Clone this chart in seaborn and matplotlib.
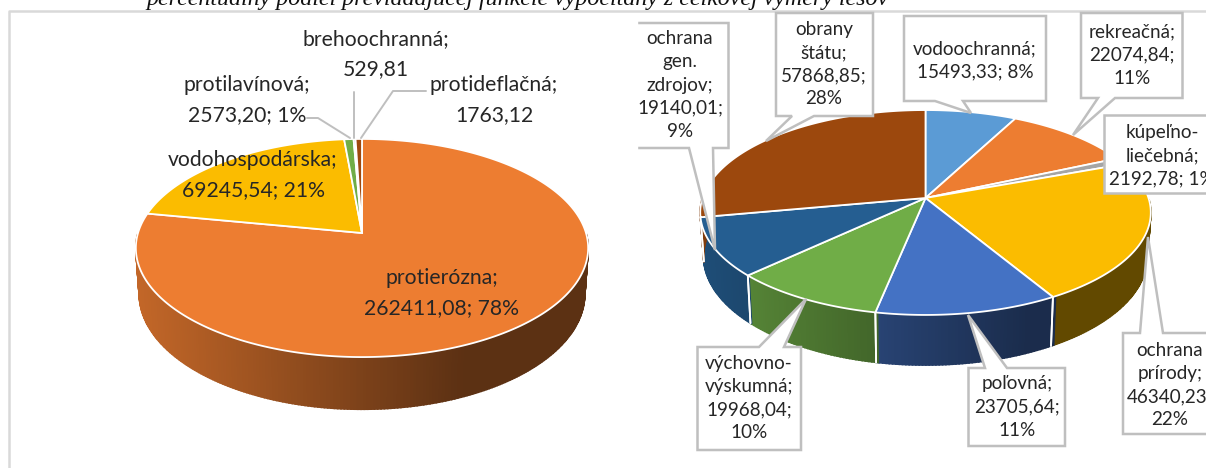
import numpy as np
import matplotlib
matplotlib.use('Agg')
import matplotlib.pyplot as plt
import seaborn as sns

sns.set_theme(style='white')
plt.rcParams['font.family'] = ['Lato', 'DejaVu Sans']

# Left pie: prevailing function of protective forests
left_names = ['protierózna', 'vodohospodárska', 'protilavínová', 'brehoochranná', 'protideflačná']
left_values = [262411.08, 69245.54, 2573.20, 529.81, 1763.12]
left_colors = ['#ED7D31', '#FBBC00', '#70AD47', '#255E91', '#9E480E']

# Right pie: prevailing function of special purpose forests
right_names = ['vodoochranná', 'rekreačná', 'kúpeľno-liečebná', 'ochrana prírody', 'poľovná',
               'výchovno-výskumná', 'ochrana gen. zdrojov', 'obrany štátu']
right_values = [15493.33, 22074.84, 2192.78, 46340.23, 23705.64, 19968.04, 19140.01, 57868.85]
right_colors = ['#5B9BD5', '#ED7D31', '#A5A5A5', '#FBBC00', '#4472C4', '#70AD47', '#255E91', '#9C480D']

title_text = 'percentuálny podiel prevládajúcej funkcie vypočítaný z celkovej výmery lesov'


def project(theta, cx, cy, R, b, k, depth=0, shrink=1.0, r=1.0):
    # fake perspective, nearer part of the disc comes out bigger
    u = r * np.cos(np.radians(theta))
    v = -r * np.sin(np.radians(theta))
    f = 1 / (1 - k * v)
    return cx + R * u * f * shrink, cy + b * v * f + depth * f


def shade(color, t):
    return tuple(c * t for c in matplotlib.colors.to_rgb(color))


def pie3d(ax, values, colors, cx, cy, R, b, k, depth):
    # ax.pie gives the wedge angles, they are then redrawn in perspective
    wedges, _ = ax.pie(values, startangle=90, counterclock=False)
    angles = [(w.theta1, w.theta2) for w in wedges]
    for w in wedges:
        w.remove()

    # side wall, only the front half of the disc
    for (t1, t2), col in zip(angles, colors):
        ts = np.arange(t1, t2 + 0.75, 0.75)
        ts = ts[(np.mod(ts, 360) >= 180)]
        for a, a2 in zip(ts[:-1], ts[1:]):
            x1, y1 = project(a, cx, cy, R, b, k)
            x2, y2 = project(a2, cx, cy, R, b, k)
            x3, y3 = project(a2, cx, cy, R, b, k, depth, 0.985)
            x4, y4 = project(a, cx, cy, R, b, k, depth, 0.985)
            nx = (x1 - cx) / R
            t = np.interp(nx, [-1, 0.45, 1], [0.82, 0.39, 0.39])
            c = shade(col, t)
            ax.fill([x1, x2, x3, x4], [y1, y2, y3, y4], color=c, lw=1.2, zorder=2)
        for a in (t1, t2):
            if np.mod(a, 360) > 180 and len(values) > 5:
                x1, y1 = project(a, cx, cy, R, b, k)
                x2, y2 = project(a, cx, cy, R, b, k, depth, 0.985)
                ax.plot([x1, x2], [y1, y2], color='white', lw=1.3, zorder=3)

    # top face
    for (t1, t2), col in zip(angles, colors):
        ts = np.linspace(t1, t2, max(int(t2 - t1) * 2, 3))
        xs, ys = project(ts, cx, cy, R, b, k)
        ax.fill(np.r_[cx, xs], np.r_[cy, ys], facecolor=col, edgecolor='white', lw=1.3, zorder=4)


def callout(ax, box, base, tip, edge='bottom', zorder=6):
    x0, y0, x1, y1 = box
    if edge == 'bottom':
        xs = [x0, x1, x1, base[1], tip[0], base[0], x0, x0]
        ys = [y0, y0, y1, y1, tip[1], y1, y1, y0]
    elif edge == 'top':
        xs = [x0, base[0], tip[0], base[1], x1, x1, x0, x0]
        ys = [y0, y0, tip[1], y0, y0, y1, y1, y0]
    else:
        xs = [x0, x1, x1, x0, x0]
        ys = [y0, y0, y1, y1, y0]
    ax.fill(xs, ys, facecolor='white', edgecolor='#BFBFBF', lw=1.8, zorder=zorder)


fig = plt.figure(figsize=(12.06, 4.68), dpi=100)
ax = fig.add_axes([0, 0, 1, 1])

pie3d(ax, left_values, left_colors, 362, 233, 224, 107, 0.1376, 45)
pie3d(ax, right_values, right_colors, 925.5, 198, 223, 100.4, 0.1415, 43)

ax.set_aspect('auto')
ax.set_xlim(0, 1206)
ax.set_ylim(468, 0)
ax.axis('off')

# page frame and clipped caption
ax.plot([8.5, 8.5, 1206], [468, 11, 11], color='#D9D9D9', lw=1.8, zorder=1)
ax.text(517, 4.5, title_text, family='Liberation Serif', style='italic', fontsize=17.3,
        ha='center', va='baseline', color='#111111')

# left pie labels
left_lead = dict(color='#BFBFBF', lw=1.4, zorder=5)
ax.plot([307, 318, 350], [118, 118, 138], **left_lead)
ax.plot([354, 354], [92, 138], **left_lead)
ax.plot([426, 393, 361], [91, 91, 138], **left_lead)
lab = dict(ha='center', va='center', color='#262626', fontsize=15.2, linespacing=1.6, zorder=7)
ax.text(376, 54, 'brehoochranná;\n529,81', **lab)
ax.text(247, 100, 'protilavínová;\n2573,20; 1%', **lab)
ax.text(494, 100, 'protideflačná;\n1763,12', **lab)
ax.text(253, 175, 'vodohospodárska;\n69245,54; 21%', **lab)
ax.text(442, 293, 'protierózna;\n262411,08; 78%', **lab)

# right pie callouts
callout(ax, (625, 23, 728.5, 148), (689, 713), (715, 250))
ax.fill([620, 637, 637, 620], [15, 15, 155, 155], color='white', zorder=6)
callout(ax, (776, 13, 873, 116), (792, 814), (766, 141))
callout(ax, (904, 16, 1046, 101), (935, 963), (971, 113))
callout(ax, (1081, 13, 1182.5, 98), (1098, 1115), (1073, 135))
callout(ax, (1103.5, 115, 1230, 193), None, None, edge=None)
callout(ax, (1123, 333, 1230, 434), (1140, 1163), (1148, 237), edge='top')
callout(ax, (968.5, 368, 1065, 446), (985, 1007), (968, 315), edge='top')
callout(ax, (697.5, 347, 801, 450), (759, 784), (806, 299), edge='top')

box = dict(ha='center', va='center', color='#262626', fontsize=13.6, linespacing=1.44, zorder=8)
ax.text(680, 85, 'ochrana\ngen.\nzdrojov;\n19140,01;\n9%', **box)
ax.text(824, 64, 'obrany\nštátu;\n57868,85;\n28%', **box)
ax.text(975, 60, 'vodoochranná;\n15493,33; 8%', **box)
ax.text(1132, 55, 'rekreačná;\n22074,84;\n11%', **box)
ax.text(1162, 156, 'kúpeľno-\nliečebná;\n2192,78; 1%', clip_on=True, **box)
ax.text(1170, 385, 'ochrana\nprírody;\n46340,23;\n22%', clip_on=True, **box)
ax.text(1017, 407, 'poľovná;\n23705,64;\n11%', **box)
ax.text(749, 398, 'výchovno-\nvýskumná;\n19968,04;\n10%', **box)

fig.savefig('out.png', dpi=100)
